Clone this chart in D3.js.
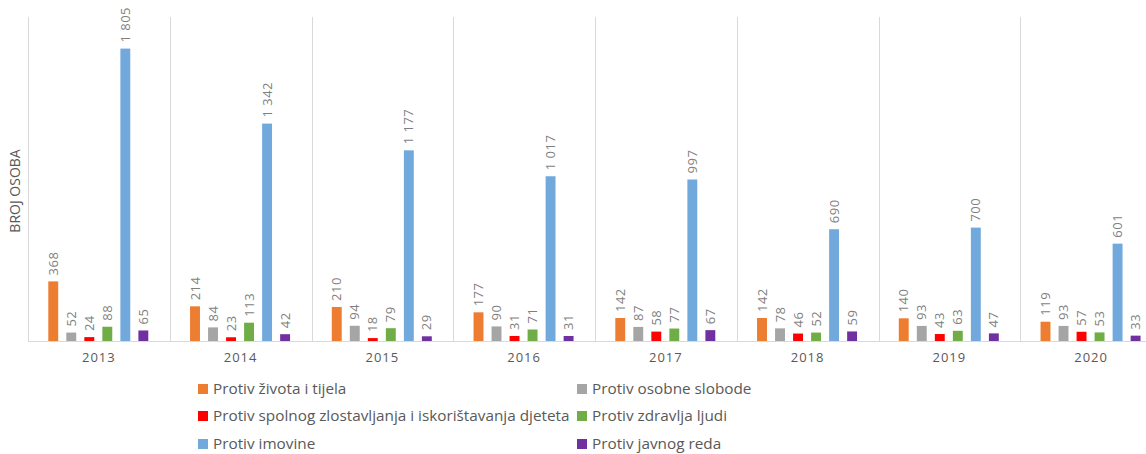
<!DOCTYPE html>
<html>
<head>
<meta charset="utf-8">
<script src="https://cdn.jsdelivr.net/npm/d3@7"></script>
<style>
  body { margin: 0; background: #fff; }
  svg { display: block; font-family: "Open Sans", sans-serif; }
</style>
</head>
<body>
<svg id="chart" width="1146" height="454"></svg>
<script>
// godine (kategorije)
var years = ["2013", "2014", "2015", "2016", "2017", "2018", "2019", "2020"];

// serije - kaznena djela
var seriesNames = [
  "Protiv života i tijela",
  "Protiv osobne slobode",
  "Protiv spolnog zlostavljanja i iskorištavanja djeteta",
  "Protiv zdravlja ljudi",
  "Protiv imovine",
  "Protiv javnog reda"
];
var seriesColors = ["#ED7D31", "#A5A5A5", "#FF0000", "#70AD47", "#72A9DD", "#7030A0"];

var zivot     = [368, 214, 210, 177, 142, 142, 140, 119];
var sloboda   = [52, 84, 94, 90, 87, 78, 93, 93];
var spolno    = [24, 23, 18, 31, 58, 46, 43, 57];
var zdravlje  = [88, 113, 79, 71, 77, 52, 63, 53];
var imovina   = [1805, 1342, 1177, 1017, 997, 690, 700, 601];
var javniRed  = [65, 42, 29, 31, 67, 59, 47, 33];

var seriesValues = [zivot, sloboda, spolno, zdravlje, imovina, javniRed];

var svg = d3.select('#chart');

// plot box (note: "top" is reserved on window, so use plotTop)
var plotLeft = 28, plotRight = 1162, plotTop = 17, plotBottom = 341;

var x0 = d3.scaleBand().domain(years).range([plotLeft, plotRight]).padding(0);
var x1 = d3.scaleBand().domain(d3.range(seriesNames.length))
    .range([20.3, 120.3]).paddingInner(0.45).paddingOuter(0);
var y = d3.scaleLinear().domain([0, 2000]).range([plotBottom, plotTop]);

// vertical separators between years
var sepPos = years.map(function(d){ return x0(d); }).concat([plotRight]);
svg.append('g').selectAll('line')
    .data(sepPos)
    .enter()
    .append('line')
    .attr('x1', function(d){ return Math.round(d) + 0.5; })
    .attr('x2', function(d){ return Math.round(d) + 0.5; })
    .attr('y1', plotTop)
    .attr('y2', plotBottom)
    .attr('stroke', '#D9D9D9')
    .attr('stroke-width', 1);

// baseline
svg.append('line')
    .attr('x1', plotLeft).attr('x2', plotRight)
    .attr('y1', plotBottom + 0.5).attr('y2', plotBottom + 0.5)
    .attr('stroke', '#D9D9D9');

// bars + labels
var groups = svg.append('g').selectAll('g')
    .data(years)
    .enter()
    .append('g')
    .attr('transform', function(d){ return 'translate(' + x0(d) + ',0)'; });

groups.each(function(year, yi){
    var g = d3.select(this);
    var rows = seriesValues.map(function(vals, si){ return { s: si, v: vals[yi] }; });

    g.selectAll('rect')
        .data(rows)
        .enter()
        .append('rect')
        .attr('x', function(d){ return x1(d.s); })
        .attr('width', x1.bandwidth())
        .attr('y', function(d){ return y(d.v); })
        .attr('height', function(d){ return y(0) - y(d.v); })
        .attr('fill', function(d){ return seriesColors[d.s]; });

    g.selectAll('text')
        .data(rows)
        .enter()
        .append('text')
        .attr('transform', function(d){
            var cx = x1(d.s) + x1.bandwidth() / 2;
            return 'translate(' + cx + ',' + (y(d.v) - 6) + ') rotate(-90)';
        })
        .attr('dy', '0.35em')
        .attr('font-size', '13px')
        .attr('letter-spacing', '0.5px')
        .attr('fill', '#7F7F7F')
        .text(function(d){ return d3.format(',')(d.v).replace(',', ' '); });
});

// year labels
svg.append('g').selectAll('text')
    .data(years)
    .enter()
    .append('text')
    .attr('x', function(d){ return x0(d) + x0.bandwidth() / 2; })
    .attr('y', 362)
    .attr('text-anchor', 'middle')
    .attr('font-size', '13px')
    .attr('letter-spacing', '1px')
    .attr('fill', '#595959')
    .text(function(d){ return d; });

// y axis title
svg.append('text')
    .attr('transform', 'translate(20,191) rotate(-90)')
    .attr('text-anchor', 'middle')
    .attr('font-size', '14px')
    .attr('fill', '#595959')
    .text('BROJ OSOBA');

// legend, two columns
var legCols = [198, 577];
var legRows = [389, 416, 444];
var legend = svg.append('g').selectAll('g')
    .data(seriesNames)
    .enter()
    .append('g')
    .attr('transform', function(d, i){
        return 'translate(' + legCols[i % 2] + ',' + legRows[Math.floor(i / 2)] + ')';
    });

legend.append('rect')
    .attr('x', 0).attr('y', -5)
    .attr('width', 10).attr('height', 10)
    .attr('fill', function(d, i){ return seriesColors[i]; });

legend.append('text')
    .attr('x', 15)
    .attr('dy', '0.35em')
    .attr('font-size', '15.3px')
    .attr('fill', '#595959')
    .text(function(d){ return d; });
</script>
</body>
</html>
